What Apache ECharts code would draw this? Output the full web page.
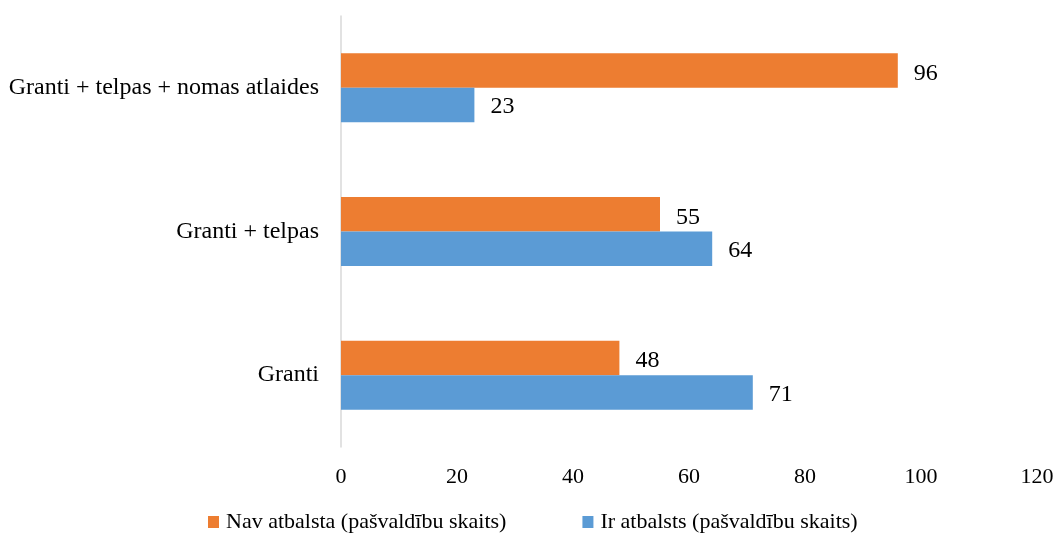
<!DOCTYPE html>
<html><head><meta charset="utf-8">
<script src="https://cdn.jsdelivr.net/npm/echarts@6/dist/echarts.min.js"></script>
<style>html,body{margin:0;padding:0;background:#fff}#c{width:1059px;height:536px}</style>
</head><body><div id="c"></div>
<script>
const categories = ['Granti', 'Granti + telpas', 'Granti + telpas + nomas atlaides'];
const navAtbalsta = [48, 55, 96];
const irAtbalsts = [71, 64, 23];
const xTicks = [0, 20, 40, 60, 80, 100, 120];

const font = 'Liberation Serif, Times New Roman, serif';
const chart = echarts.init(document.getElementById('c'));
chart.setOption({
  animation: false,
  textStyle: {fontFamily: font},
  grid: {left: 341, right: 22, top: 16, bottom: 89, containLabel: false},
  legend: {
    top: 506, left: 203, itemWidth: 11, itemHeight: 12, itemGap: 76,
    icon: 'rect',
    textStyle: {fontFamily: font, fontSize: 22, color: '#000', padding: [0, 0, 0, 2]},
    data: ['Nav atbalsta (pašvaldību skaits)', 'Ir atbalsts (pašvaldību skaits)']
  },
  xAxis: {
    type: 'value', min: xTicks[0], max: xTicks[xTicks.length - 1], interval: 20,
    axisLine: {show: false}, axisTick: {show: false}, splitLine: {show: false},
    axisLabel: {fontFamily: font, fontSize: 22, color: '#000', margin: 19}
  },
  yAxis: {
    type: 'category', data: categories,
    axisLine: {show: true, lineStyle: {color: '#d9d9d9', width: 1.5}},
    axisTick: {show: false},
    axisLabel: {fontFamily: font, fontSize: 24, color: '#000', margin: 22}
  },
  series: [
    {
      name: 'Nav atbalsta (pašvaldību skaits)', type: 'bar', data: navAtbalsta,
      itemStyle: {color: '#ED7D31'}, barGap: '0%', barCategoryGap: '52%',
      label: {show: true, position: 'right', distance: 16, offset: [0, 3], fontFamily: font, fontSize: 24, color: '#000'}
    },
    {
      name: 'Ir atbalsts (pašvaldību skaits)', type: 'bar', data: irAtbalsts,
      itemStyle: {color: '#5B9BD5'}, barGap: '0%', barCategoryGap: '52%',
      label: {show: true, position: 'right', distance: 16, offset: [0, 2], fontFamily: font, fontSize: 24, color: '#000'}
    }
  ]
});
</script></body></html>
